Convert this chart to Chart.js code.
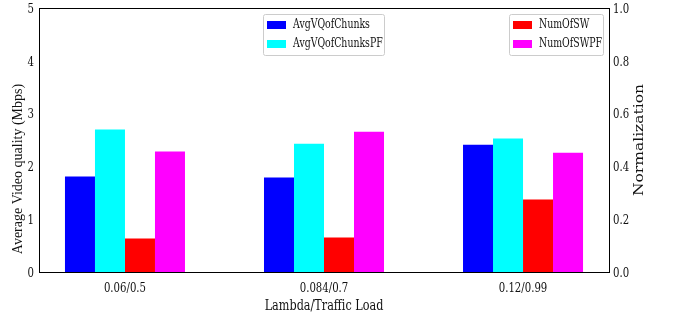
<!DOCTYPE html>
<html>
<head>
<meta charset="utf-8">
<script src="https://cdn.jsdelivr.net/npm/chart.js@4/dist/chart.umd.min.js"></script>
<style>
  html, body { margin: 0; padding: 0; background: #fff; }
  #wrap { width: 674px; height: 318px; }
</style>
</head>
<body>
<div id="wrap"><canvas id="chart" width="674" height="318"></canvas></div>
<script>
// data
const categories = ['0.06/0.5', '0.084/0.7', '0.12/0.99'];
const avgVQofChunks = [1.81, 1.79, 2.41];
const avgVQofChunksPF = [2.70, 2.43, 2.53];
const numOfSW = [0.127, 0.131, 0.275];
const numOfSWPF = [0.456, 0.531, 0.452];
const leftTicks = [0, 1, 2, 3, 4, 5];
const rightTicks = [0, 0.2, 0.4, 0.6, 0.8, 1.0];
const xTitle = 'Lambda/Traffic Load';
const yTitle = 'Average Video quality (Mbps)';
const y1Title = 'Normalization';

const FONT = '"DejaVu Serif", "Liberation Serif", serif';
const TIMES = '"Liberation Serif", "DejaVu Serif", serif';
const SQ = 0.78; // the figure's text looks squeezed horizontally
const INK = '#111';

function pts(arr) {
    return arr.map((v, i) => ({ x: i, y: v }));
}

// draws text, narrowed along the page's x direction by sq
function txt(ctx, s, x, y, size, align, baseline, vertical, font, sq) {
    const k = sq === undefined ? SQ : sq;
    ctx.save();
    ctx.translate(x, y);
    if (vertical) {
        ctx.rotate(-Math.PI / 2);
        ctx.scale(1, k);
    } else {
        ctx.scale(k, 1);
    }
    ctx.font = size + 'px ' + (font || FONT);
    ctx.textAlign = align;
    ctx.textBaseline = baseline;
    ctx.fillStyle = INK;
    ctx.fillText(s, 0, 0);
    ctx.restore();
}

// frame, tick labels, axis titles and the two legend boxes
const extras = {
    id: 'extras',
    afterDraw(chart) {
        const ctx = chart.ctx;
        const a = chart.chartArea;
        const sx = chart.scales.x, sy = chart.scales.y, sy1 = chart.scales.y1;
        ctx.save();
        ctx.strokeStyle = '#000';
        ctx.lineWidth = 1;
        ctx.strokeRect(a.left + 0.5, a.top + 0.5, a.right - a.left, a.bottom - a.top);
        ctx.restore();

        categories.forEach((c, i) => txt(ctx, c, sx.getPixelForValue(i), a.bottom + 20, 13, 'center', 'alphabetic'));
        leftTicks.forEach(v => txt(ctx, String(v), a.left - 5, sy.getPixelForValue(v) + 4.7, 13, 'right', 'alphabetic'));
        rightTicks.forEach(v => txt(ctx, v.toFixed(1), a.right + 4, sy1.getPixelForValue(v) + 4.7, 13, 'left', 'alphabetic'));

        txt(ctx, xTitle, (a.left + a.right) / 2, a.bottom + 37.5, 14.4, 'center', 'alphabetic');
        txt(ctx, yTitle, 18, 169, 14, 'center', 'middle', true, TIMES, 1);
        txt(ctx, y1Title, 640, (a.top + a.bottom) / 2, 15.5, 'center', 'middle', true);

        const ds = chart.data.datasets;
        function legend(x, y, w, items) {
            ctx.save();
            ctx.fillStyle = 'rgba(255,255,255,0.8)';
            ctx.strokeStyle = '#cccccc';
            ctx.lineWidth = 1;
            ctx.beginPath();
            ctx.roundRect(x + 0.5, y + 0.5, w, 41, 2);
            ctx.fill();
            ctx.stroke();
            ctx.restore();
            items.forEach((d, k) => {
                const ry = y + 7 + k * 19;
                ctx.fillStyle = d.backgroundColor;
                ctx.fillRect(x + 4, ry, 19, 8);
                txt(ctx, d.label, x + 30, ry + 7, 12, 'left', 'alphabetic');
            });
        }
        legend(263, 14, 121, [ds[0], ds[1]]);
        legend(509, 14, 94, [ds[2], ds[3]]);
    }
};

const tickGrid = { display: false, drawOnChartArea: false, drawTicks: true, tickLength: 4, tickColor: '#000' };

new Chart(document.getElementById('chart'), {
    type: 'bar',
    data: {
        datasets: [
            { label: 'AvgVQofChunks', data: pts(avgVQofChunks), backgroundColor: '#0000ff', yAxisID: 'y' },
            { label: 'AvgVQofChunksPF', data: pts(avgVQofChunksPF), backgroundColor: '#00ffff', yAxisID: 'y' },
            { label: 'NumOfSW', data: pts(numOfSW), backgroundColor: '#ff0000', yAxisID: 'y1' },
            { label: 'NumOfSWPF', data: pts(numOfSWPF), backgroundColor: '#ff00ff', yAxisID: 'y1' }
        ]
    },
    options: {
        responsive: false,
        animation: false,
        devicePixelRatio: 1,
        layout: { padding: { top: 8, left: 0, right: 0, bottom: 0 } },
        datasets: { bar: { barPercentage: 1, categoryPercentage: 0.603, borderWidth: 0 } },
        plugins: { legend: { display: false }, tooltip: { enabled: false } },
        scales: {
            x: {
                type: 'linear',
                offset: false,
                min: -0.432,
                max: 2.432,
                afterBuildTicks(scale) { scale.ticks = categories.map((c, i) => ({ value: i })); },
                afterFit(scale) { scale.height = 46; },
                grid: tickGrid,
                border: { display: true, color: '#000' },
                ticks: { display: false }
            },
            y: {
                position: 'left',
                min: 0, max: 5,
                afterBuildTicks(scale) { scale.ticks = leftTicks.map(v => ({ value: v })); },
                afterFit(scale) { scale.width = 39; },
                grid: tickGrid,
                border: { display: true, color: '#000' },
                ticks: { display: false }
            },
            y1: {
                position: 'right',
                min: 0, max: 1,
                afterBuildTicks(scale) { scale.ticks = rightTicks.map(v => ({ value: v })); },
                afterFit(scale) { scale.width = 65; },
                grid: tickGrid,
                border: { display: true, color: '#000' },
                ticks: { display: false }
            }
        }
    },
    plugins: [extras]
});
</script>
</body>
</html>
